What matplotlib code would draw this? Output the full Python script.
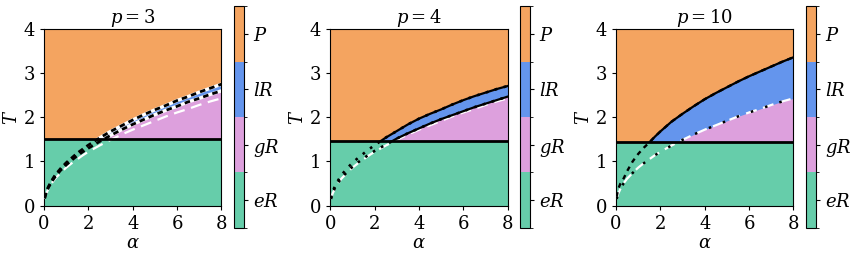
import matplotlib
matplotlib.use("Agg")
import matplotlib.pyplot as plt
import numpy as np
from matplotlib.colors import ListedColormap, BoundaryNorm
from matplotlib.patches import Rectangle

plt.rcParams['font.family'] = 'DejaVu Serif'
plt.rcParams['mathtext.fontset'] = 'dejavuserif'
plt.rcParams['font.size'] = 12

# phase colours, bottom to top
phase_labels = ['$eR$', '$gR$', '$lR$', '$P$']
phase_colors = ['#66CDAA', '#DDA0DD', '#6495ED', '#F4A460']

p_values = [3, 4, 10]
T_flat = [1.50, 1.46, 1.45]

alpha = [0.03, 0.1, 0.2, 0.35, 0.5, 0.75, 1.0, 1.25, 1.5, 1.75, 2.0, 2.5, 3.0,
         3.5, 4.0, 4.5, 5.0, 5.5, 6.0, 6.5, 7.0, 7.5, 8.0]

# upper boundary (P / lR)
T_A = [
    [0.17, 0.31, 0.43, 0.57, 0.69, 0.84, 0.97, 1.08, 1.19, 1.28, 1.37, 1.53, 1.68,
     1.81, 1.94, 2.06, 2.17, 2.27, 2.38, 2.47, 2.57, 2.66, 2.75],
    [0.17, 0.31, 0.43, 0.57, 0.69, 0.84, 0.97, 1.08, 1.18, 1.28, 1.37, 1.54, 1.69,
     1.84, 1.97, 2.08, 2.18, 2.29, 2.39, 2.48, 2.56, 2.64, 2.71],
    [0.20, 0.38, 0.50, 0.62, 0.78, 1.00, 1.17, 1.31, 1.43, 1.56, 1.68, 1.90, 2.08,
     2.25, 2.41, 2.55, 2.68, 2.81, 2.93, 3.04, 3.15, 3.26, 3.36],
]
# lower boundary (lR / gR)
T_B = [
    [0.16, 0.29, 0.41, 0.54, 0.65, 0.80, 0.92, 1.03, 1.13, 1.22, 1.30, 1.45, 1.59,
     1.72, 1.84, 1.95, 2.06, 2.16, 2.25, 2.35, 2.43, 2.52, 2.60],
    [0.15, 0.28, 0.39, 0.52, 0.62, 0.76, 0.88, 0.98, 1.07, 1.16, 1.24, 1.38, 1.52,
     1.64, 1.75, 1.86, 1.96, 2.05, 2.14, 2.23, 2.31, 2.39, 2.47],
    [0.15, 0.27, 0.38, 0.51, 0.61, 0.74, 0.86, 0.96, 1.05, 1.14, 1.22, 1.36, 1.49,
     1.61, 1.72, 1.82, 1.92, 2.02, 2.11, 2.19, 2.28, 2.36, 2.43],
]
# white dashed line
T_C = [0.15, 0.27, 0.38, 0.51, 0.61, 0.74, 0.86, 0.96, 1.05, 1.14, 1.22, 1.36, 1.49,
       1.61, 1.72, 1.82, 1.92, 2.02, 2.11, 2.19, 2.28, 2.36, 2.43]

cmap = ListedColormap(phase_colors)
norm = BoundaryNorm([0, 1, 2, 3, 4], cmap.N)

fig = plt.figure(figsize=(8.52, 2.79), dpi=100)

ax_left = [0.0516, 0.3877, 0.723]
cb_left = [0.2746, 0.6103, 0.946]

for i in range(3):
    ax = fig.add_axes([ax_left[i], 0.263, 0.2083, 0.633])
    a = np.array(alpha)
    A = np.array(T_A[i])
    B = np.array(T_B[i])
    C = np.array(T_C)
    tc = T_flat[i]

    ax.set_facecolor(phase_colors[3])
    ax.fill_between(a, 0, A, color=phase_colors[2], lw=0)
    ax.fill_between(a, 0, B, color=phase_colors[1], lw=0)
    ax.fill_between([0, 8], 0, tc, color=phase_colors[0], lw=0)

    above = Rectangle((0, tc), 8, 4 - tc, transform=ax.transData)

    if i == 0:
        for T in (A, B):
            l, = ax.plot(a, T, color='white', lw=2.4, zorder=3)
            l.set_clip_path(above)
            ax.plot(a, T, color='black', lw=2.0, ls=(0, (2, 1.5)), zorder=4)
        ax.plot(a, C, color='white', lw=1.6, ls=(0, (5, 3)), zorder=3)
    elif i == 1:
        ax.plot(a, C, color='white', lw=1.6, ls=(0, (5, 3)), zorder=3)
        for T in (A, B):
            ax.plot(a, T, color='black', lw=1.9, ls=(0, (1, 2.5)), zorder=4)
            l, = ax.plot(a, T, color='black', lw=1.6, zorder=4)
            l.set_clip_path(above)
    else:
        ax.plot(a, A, color='black', lw=1.7, ls=(0, (2, 2)), zorder=4)
        l, = ax.plot(a, A, color='black', lw=1.6, zorder=4)
        l.set_clip_path(above)
        ax.plot(a, B, color='white', lw=1.6, ls=(0, (5, 3)), zorder=3)
        ax.plot(a, B, color='black', lw=1.8, ls=(0, (1, 5)), zorder=4)

    ax.axhline(tc, color='black', lw=2.0, zorder=5)

    ax.set_xlim(0, 8)
    ax.set_ylim(0, 4)
    ax.set_xticks([0, 2, 4, 6, 8])
    ax.set_yticks([0, 1, 2, 3, 4])
    ax.tick_params(labelsize=13, length=3)
    ax.set_xlabel(r'$\alpha$', fontsize=13, labelpad=1)
    ax.set_ylabel(r'$T$', fontsize=13, labelpad=2)
    ax.set_title(r'$p = %d$' % p_values[i], fontsize=13, pad=2)

    cax = fig.add_axes([cb_left[i], 0.184, 0.0123, 0.794])
    sm = plt.cm.ScalarMappable(cmap=cmap, norm=norm)
    cb = fig.colorbar(sm, cax=cax, ticks=[0.5, 1.5, 2.5, 3.5])
    cb.set_ticklabels(phase_labels)
    cb.ax.tick_params(labelsize=13, length=3)

fig.savefig('out.png', dpi=100)
